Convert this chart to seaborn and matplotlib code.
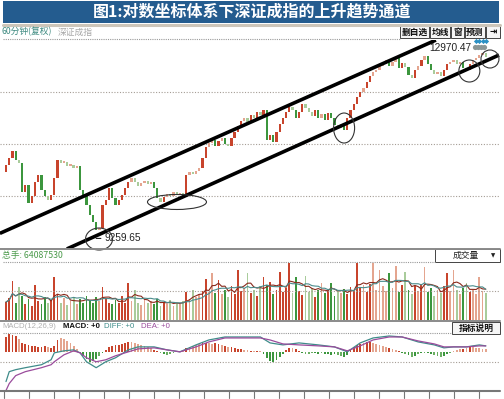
import numpy as np
import pandas as pd
import matplotlib
matplotlib.use("Agg")
import matplotlib.pyplot as plt
from matplotlib.patches import Rectangle, Ellipse
import seaborn as sns

# ---------------- data ----------------
title = "图1:对数坐标体系下深证成指的上升趋势通道"
period_label = "60分钟(复权)"
index_name = "深证成指"
buttons = ["删自选", "均线", "窗", "预测", "⇥"]
volume_label = "总手: 64087530"
volume_menu = "成交量"
macd_title = "MACD(12,26,9)"
macd_value = "MACD: +0"
diff_value = "DIFF: +0"
dea_value = "DEA: +0"
macd_button = "指标说明"

first_open = 10445
close = [10578, 10713, 10850, 10674, 10616, 10072, 10201, 9873, 10000, 10257,
         10388, 10109, 10000, 9928, 10018, 10331, 10674, 10616, 10635, 10559,
         10578, 10521, 10559, 10109, 10018, 9838, 9662, 9540, 9403, 9437,
         9838, 9928, 10146, 9964, 9838, 9928, 10018, 10146, 10257, 10331,
         10257, 10183, 10238, 10275, 10220, 10257, 10146, 9964, 9892, 9982,
         10036, 10000, 10072, 10018, 10054, 10000, 10388, 10444, 10407, 10463,
         10521, 10713, 10928, 11007, 11067, 10948, 11047, 11109, 10988, 10948,
         11109, 11230, 11352, 11455, 11518, 11434, 11581, 11518, 11644, 11581,
         11686, 11067, 11169, 11027, 11230, 11393, 11518, 11644, 11750, 11686,
         11518, 11644, 11814, 11729, 11644, 11560, 11686, 11518, 11602, 11476,
         11623, 11518, 11373, 11311, 11393, 11270, 11518, 11686, 11814, 11965,
         12075, 12162, 12295, 12429, 12520, 12565, 12656, 12702, 12795, 12656,
         12748, 12841, 12611, 12725, 12633, 12452, 12385, 12565, 12656, 12795,
         12888, 12702, 12565, 12474, 12520, 12429, 12565, 12702, 12748, 12795,
         12702, 12748, 12611, 12565, 12702, 12795, 12841, 12911, 12958, 12865]

volume = [31, 38, 67, 30, 57, 42, 28, 36, 25, 60, 33, 27, 40, 30, 34, 74,
          45, 30, 38, 26, 33, 40, 28, 36, 30, 42, 35, 29, 40, 33, 57,
          38, 30, 27, 35, 29, 41, 30, 64, 33, 52, 30, 26, 37, 29, 32,
          28, 36, 25, 31, 27, 35, 24, 30, 27, 33,
          48, 36, 52, 40, 45, 50, 71, 49, 81, 47, 69, 44, 51, 40, 58, 45, 86,
          50, 55, 81, 46, 52, 42, 58, 74, 60, 65, 44, 52, 83, 48, 55, 98, 46,
          74, 50, 43, 76, 48, 55, 40, 52, 64, 46, 50, 64, 42, 50, 47, 53,
          45, 57, 50, 98, 55, 60, 48, 62, 98, 52, 86, 58, 50, 81, 55, 93, 48,
          60, 83, 52, 45, 58, 50, 62, 91, 48, 55, 42, 52, 46, 58, 81, 50, 86,
          52, 45, 55, 64, 48, 52, 44, 74, 50, 46]

macd_hist = [15, 18, 17, 16, 13, 9, 8, 7, 6, 6,
             5, 5, 6, 5, 4, 6, 12, 14, 13, 11,
             9, 6, 3, -1, -4, -7, -10, -9, -7, -4,
             -1, 2, 5, 6, 7, 7, 8, 9, 10, 10,
             9, 8, 7, 6, 5, 4, 2, 1, -1, -2,
             -3, -2, -1, 0.5, 1, 2, 4, 5, 6, 7,
             8, 9, 9, 9, 8, 9, 8, 7, 6, 5,
             5, 4, 3, 3, 2, 2, 1, 1, 0.5, 0.5,
             -2, -6, -9, -10, -8, -5, -2, 2, 4, 4,
             3, 1, -1, -2, -2, -1, -1, -2, -1, -2,
             -2, -3, -2, -3, -4, -5, -3, 2, 5, 7,
             8, 9, 10, 10, 9, 8, 7, 6, 5, 4,
             3, 2, 1, -1, -2, -3, -5, -4, -2, -1,
             -1, -1, -2, -3, -4, -5, -4, -2, -1, 1,
             2, 3, 3, 4, 5, 5, 4, 4, 3, 3]

macd_idx = [0, 1, 3, 6, 11, 14, 15, 18, 21, 23, 25, 28, 31, 34, 38, 41, 46, 50,
            54, 59, 63, 68, 74, 79, 82, 86, 91, 97, 102, 106, 110, 114, 119,
            123, 128, 133, 136, 139, 143, 147, 149]
diff = [-30, -20, -18, -16, -13, -8, -1, 1, 2, -1, -10, -16, -10, -6, 2, 5, 5,
        2, 0, 7, 12, 15, 15, 15, 9, 7, 9, 7, 5, 0, 9, 14, 16, 15, 10, 7, 4, 5,
        5, 7, 6]
dea = [-39, -32, -24, -20, -16, -13, -10, -3, 1, -1, -6, -10, -8, -4, 0, 3, 4,
       2, 0, 5, 10, 14, 14, 14, 12, 8, 7, 6, 5, 1, 6, 12, 15, 15, 11, 8, 5, 5,
       5, 6, 6]

price_grid = [10000, 10990, 12080]
high_idx, high_val = 148, 12970.47
low_idx, low_val = 28, 9259.65
upper_idx = [-1.9, 133.5]
upper_price = [9345, 13265]
lower_idx = [18.9, 153.1]
lower_price = [9085, 12910]
circle_idx = [28.9, 53.1, 105.0, 143.9, 150.3]
circle_price = [9250, 9892, 11311, 12542, 12818]
marker_idx = [146, 147, 148, 149]

# ---------------- style ----------------
sns.set_theme(style="white")
plt.rcParams['font.family'] = ['Noto Sans CJK SC', 'DejaVu Sans']
plt.rcParams['axes.unicode_minus'] = False
LATIN = ['Liberation Sans', 'DejaVu Sans']

W, H = 504, 399
fig = plt.figure(figsize=(W / 100, H / 100), dpi=100)
fig.patch.set_facecolor('white')


def rect(x0, y0, x1, y1):
    return [x0 / W, 1 - y1 / H, (x1 - x0) / W, (y1 - y0) / H]


XL = (-6 / 3.22, (500 - 6) / 3.22)
ax_p = fig.add_axes(rect(0, 40, 500, 249))
ax_v = fig.add_axes(rect(0, 262, 500, 320))
ax_m = fig.add_axes(rect(0, 333, 500, 391))
ov = fig.add_axes([0, 0, 1, 1], zorder=10)
ov.set_xlim(0, W)
ov.set_ylim(H, 0)
ov.axis('off')

n = len(close)
idx = np.arange(n)
c = np.array(close, dtype=float)
o = np.array([first_open] + close[:-1], dtype=float)
up = c >= o
strong = np.abs(np.log(c / o)) > 0.008
RED_D, RED_L, GRN_D, GRN_L = '#c8442c', '#e4a58f', '#3c963e', '#a9cc9b'
colors = np.where(up, np.where(strong, RED_D, RED_L),
                  np.where(strong, GRN_D, GRN_L))

# ---------------- price panel ----------------
ax_p.set_yscale('log')
bottom = np.minimum(o, c)
height = np.maximum(np.abs(c - o), bottom * 0.0028)
ax_p.bar(idx, height, bottom=bottom, width=0.7, color=colors, linewidth=0,
         zorder=2)
for g in price_grid:
    ax_p.axhline(g, color='#a59d95', lw=0.8, ls=(0, (1, 1.5)), zorder=1)
ax_p.plot(upper_idx, upper_price, color='black', lw=2.6, zorder=4,
          solid_capstyle='butt')
ax_p.plot(lower_idx, lower_price, color='black', lw=2.6, zorder=4,
          solid_capstyle='butt')
ax_p.set_xlim(*XL)
ax_p.set_ylim(9084, 13267)
ax_p.axis('off')

ax_p.annotate(f"{low_val:.2f}", xy=(low_idx, low_val), xytext=(8, 0),
              textcoords='offset pixels', ha='left', va='center', fontsize=7.3,
              color='#222222', family=LATIN,
              arrowprops=dict(arrowstyle='-', color='#222222', lw=0.8,
                              shrinkA=0, shrinkB=0), zorder=6)
ax_p.annotate(f"{high_val:.2f}", xy=(high_idx, high_val), xytext=(-11, 4),
              textcoords='offset pixels', ha='right', va='center', fontsize=7.3,
              color='#222222', family=LATIN, zorder=6)
ax_p.scatter([m - 0.5 for m in marker_idx], [13105] * 4, marker='o', s=14,
             color='#8a9696', linewidths=0, zorder=5, clip_on=False)
ax_p.scatter(marker_idx, [13240] * 4, marker='D', s=7, color='#2a90c4',
             linewidths=0, zorder=5, clip_on=False)

# ---------------- volume panel ----------------
vdf = pd.DataFrame({'i': idx, 'vol': volume,
                    'key': [f"k{k}" for k in idx]})
pal = dict(zip(vdf['key'], colors))
sns.barplot(data=vdf, x='i', y='vol', hue='key', palette=pal, legend=False,
            native_scale=True, width=0.55, errorbar=None, linewidth=0,
            saturation=1, ax=ax_v)
vs = pd.Series(volume, dtype=float)
sns.lineplot(x=idx, y=vs.rolling(5, min_periods=1).mean().values,
             color='#8a2a1c', lw=0.8, ax=ax_v, zorder=4)
sns.lineplot(x=idx, y=vs.rolling(10, min_periods=1).mean().values,
             color='#4a8c8c', lw=0.8, ax=ax_v, zorder=4)
ax_v.axhline(50, color='#a59d95', lw=0.8, ls=(0, (1, 1.5)), zorder=1)
ax_v.set_xlim(*XL)
ax_v.set_ylim(0, 100)
ax_v.axis('off')

# ---------------- MACD panel ----------------
hist_colors = np.where(np.array(macd_hist) >= 0,
                       np.where(strong, RED_D, RED_L),
                       np.where(strong, GRN_D, '#6aae62'))
mdf = pd.DataFrame({'i': idx, 'h': macd_hist,
                    'key': [f"m{k}" for k in idx]})
sns.barplot(data=mdf, x='i', y='h', hue='key',
            palette=dict(zip(mdf['key'], hist_colors)), legend=False,
            native_scale=True, width=0.55, errorbar=None, linewidth=0,
            saturation=1, ax=ax_m)
sns.lineplot(x=macd_idx, y=diff, color='#3f8c8a', lw=0.9, ax=ax_m, zorder=4)
sns.lineplot(x=macd_idx, y=dea, color='#9a4c9c', lw=0.9, ax=ax_m, zorder=4)
ax_m.axhline(-10, color='#a59d95', lw=0.8, ls=(0, (1, 1.5)), zorder=1)
ax_m.set_xlim(*XL)
ax_m.set_ylim(-39.5, 19)
ax_m.axis('off')

# ---------------- ellipses (anchored to price data) ----------------
ell_sizes = [(27, 22), (59, 15), (21, 30), (21, 22), (18, 18)]
for ci, cp, (ew, eh) in zip(circle_idx, circle_price, ell_sizes):
    dx, dy = ax_p.transData.transform((ci, cp))
    ov.add_patch(Ellipse((dx, H - dy), ew, eh, fill=False, ec='#333333',
                         lw=0.8))

# ---------------- frame / header decorations ----------------
ov.add_patch(Rectangle((3, 1), 496, 22, color='#245c8f', lw=0))
ov.text(252, 12, title, color='white', fontsize=11.5, fontweight='bold',
        ha='center', va='center')
ov.plot([3, 500], [25, 25], color='#cdc6ba', lw=2.2)

ov.text(2, 32, period_label, color='#3d8a80', fontsize=6.3, va='center')
ov.text(58, 32, index_name, color='#a8a8a8', fontsize=6.3, va='center')
ov.plot([3, 400], [39, 39], color='#999999', lw=0.8, ls=(0, (1, 1)))
btn_x = [(400, 429), (430, 450), (451, 464), (465, 485), (486, 500)]
for label, (x0, x1) in zip(buttons, btn_x):
    ov.add_patch(Rectangle((x0, 26), x1 - x0, 12, fc='#f6f6f6', ec='#444444',
                           lw=0.7))
    ov.text((x0 + x1) / 2, 32, label, fontsize=6.3, ha='center', va='center',
            color='#111111', fontweight='bold')

# volume header
ov.plot([0, 500], [249, 249], color='#8a8a8a', lw=1.4)
ov.text(2, 255.5, volume_label, color='#4a9a4a', fontsize=6.3, va='center')
ov.add_patch(Rectangle((435, 249), 65, 13, fc='white', ec='#444444', lw=0.7))
ov.text(466, 255.5, volume_menu, fontsize=6.3, ha='center', va='center',
        color='#222222')
ov.text(493, 255.5, '▼', fontsize=4, ha='center', va='center',
        color='#222222', family=['DejaVu Sans'])
ov.plot([3, 435], [262, 262], color='#999999', lw=0.8, ls=(0, (1, 1)))

# MACD header
ov.plot([0, 500], [321, 321], color='#8a8a8a', lw=1.4)
ov.text(2, 327, macd_title, color='#b0b0b0', fontsize=5.6, va='center',
        family=LATIN)
ov.text(63, 327, macd_value, color='#111111', fontsize=5.6, va='center',
        fontweight='bold', family=LATIN)
ov.text(104, 327, diff_value, color='#3f8c8a', fontsize=5.6, va='center',
        family=LATIN)
ov.text(141, 327, dea_value, color='#9a4c9c', fontsize=5.6, va='center',
        family=LATIN)
ov.add_patch(Rectangle((452, 322), 48, 12, fc='#f6f6f6', ec='#444444',
                       lw=0.7))
ov.text(476, 328, macd_button, fontsize=6.3, ha='center', va='center',
        color='#111111', fontweight='bold')
ov.plot([3, 452], [333, 333], color='#999999', lw=0.8, ls=(0, (1, 1)))

# bottom time axis
ov.plot([0, 500], [391, 391], color='#777777', lw=1.5)
for tx in range(4, 500, 25):
    ov.plot([tx, tx], [391, 398], color='#777777', lw=0.8)

fig.savefig('out.png', dpi=100, facecolor='white')
